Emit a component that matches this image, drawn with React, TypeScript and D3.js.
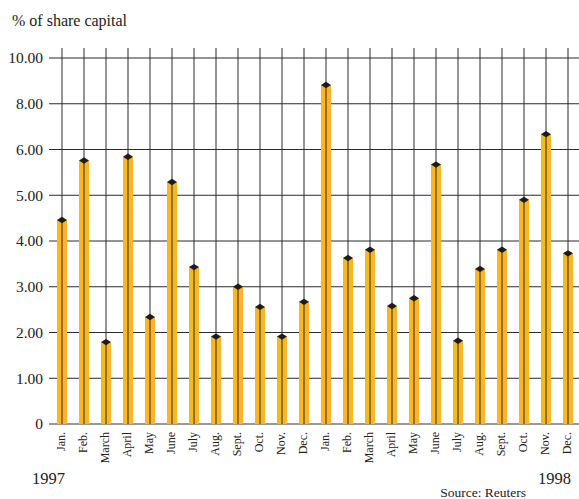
import React from "react";
import * as d3 from "d3";

const months = ["Jan.", "Feb.", "March", "April", "May", "June", "July", "Aug.", "Sept.", "Oct.", "Nov.", "Dec."];
const years = ["1997", "1998"];
const values1997 = [4.46, 5.76, 1.79, 5.84, 2.34, 5.29, 3.43, 1.91, 3.0, 2.56, 1.91, 2.67];
const values1998 = [8.82, 3.63, 3.81, 2.58, 2.75, 5.67, 1.82, 3.39, 3.81, 4.9, 6.67, 3.73];
const yTicks = [0, 1, 2, 3, 4, 5, 6, 8, 10];
const yTickLabels = ["0", "1.00", "2.00", "3.00", "4.00", "5.00", "6.00", "8.00", "10.00"];
const title = "% of share capital";
const source = "Source: Reuters";

const W = 579;
const H = 499;
const y0 = 424;
const yTop = 58;
const gridLeft = 49;
const lineTop = 48;
const font = "Liberation Serif, Times New Roman, DejaVu Serif, serif";

export default function App() {
  const labels = years.flatMap((yr) => months.map((m) => `${m} ${yr}`));
  const values = [...values1997, ...values1998];
  const x = d3.scalePoint<number>().domain(d3.range(labels.length)).range([62, 568]);
  const step = (y0 - yTop) / (yTicks.length - 1);
  const y = d3.scaleLinear().domain(yTicks).range(yTicks.map((_, i) => y0 - i * step));
  const barW = 10;
  const dW = 5;
  const dH = 3.2;
  const ts = { fontFamily: font };

  return (
    <svg width={W} height={H} style={{ position: "absolute", left: 0, top: 0, background: "#fff", fontFamily: font }}>
      <text x={12} y={26} fontSize={16} fill="#222" style={ts}>{title}</text>
      {yTicks.map((t, i) => (
        <g key={"h" + i}>
          <line x1={gridLeft} x2={W} y1={y(t)} y2={y(t)} stroke={i === 0 ? "#777" : "#2a2a2a"} strokeWidth={i === 0 ? 1.6 : 1} />
          <text x={43} y={y(t)} dy="0.35em" textAnchor="end" fontSize={15.5} fill="#222" style={ts}>{yTickLabels[i]}</text>
        </g>
      ))}
      {values.map((v, i) => (
        <rect key={"b" + i} x={x(i)! - barW / 2} y={y(v)} width={barW} height={y0 - y(v)} fill="#FBB623" />
      ))}
      {values.map((_, i) => (
        <line key={"v" + i} x1={x(i)!} x2={x(i)!} y1={lineTop} y2={y0} stroke="#2a2a2a" strokeWidth={1} />
      ))}
      {values.map((v, i) => {
        const cx = x(i)!;
        const cy = y(v);
        return (
          <path key={"d" + i} d={`M${cx - dW},${cy} L${cx},${cy - dH} L${cx + dW},${cy} L${cx},${cy + dH} Z`} fill="#1c1c1c" />
        );
      })}
      {labels.map((l, i) => (
        <text key={"m" + i} transform={`translate(${x(i)! - 1},${432}) rotate(-90)`} dy="0.35em" textAnchor="end" fontSize={12} fill="#222" style={ts}>
          {l.split(" ")[0]}
        </text>
      ))}
      <text x={32} y={484} fontSize={16.5} fill="#222" style={ts}>{years[0]}</text>
      <text x={571} y={484} fontSize={16.5} fill="#222" textAnchor="end" style={ts}>{years[1]}</text>
      <text x={526} y={497} fontSize={13.5} fill="#222" textAnchor="end" style={ts}>{source}</text>
    </svg>
  );
}
